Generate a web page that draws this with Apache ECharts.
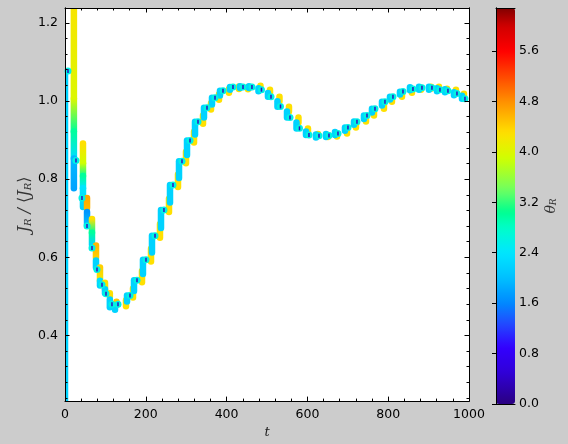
<!DOCTYPE html>
<html><head><meta charset="utf-8">
<script src="https://cdn.jsdelivr.net/npm/echarts@6/dist/echarts.min.js"></script>
<style>html,body{margin:0;padding:0;background:#cccccc;} #c{width:568px;height:444px;}</style>
</head><body><div id="c"></div>
<script>
// ---------------- data ----------------
const xTicks = [0, 200, 400, 600, 800, 1000];
const yMajorTicks = [0.4, 0.6, 0.8, 1.0, 1.2];
const yMinorTicks = [0.24,0.28,0.32,0.36,0.40,0.44,0.48,0.52,0.56,0.60,0.64,0.68,0.72,0.76,0.80,0.84,0.88,0.92,0.96,1.00,1.04,1.08,1.12,1.16,1.20];
const cbTicks = [0.0, 0.8, 1.6, 2.4, 3.2, 4.0, 4.8, 5.6];

// early (falling) part: [t, J_from, J_to, theta_from, theta_to]
const earlyBars = [
  [0, 0.225, 1.075, 2.2, 2.2],
  [22, 1.30, 1.006, 4.3, 4.0], [22, 1.006, 0.922, 4.0, 3.0], [22, 0.922, 0.853, 3.0, 2.3], [22, 0.853, 0.777, 1.95, 1.8],
  [44.5, 0.891, 0.841, 4.3, 3.9], [44.5, 0.841, 0.808, 3.9, 3.0], [44.5, 0.808, 0.777, 3.0, 2.4], [44.5, 0.777, 0.729, 2.4, 2.2],
  [54.5, 0.752, 0.726, 4.65, 4.55], [54.5, 0.716, 0.683, 1.7, 2.0],
  [66.8, 0.698, 0.663, 4.3, 3.0], [66.8, 0.663, 0.632, 3.0, 2.2],
  [76.7, 0.630, 0.599, 4.55, 4.4], [76.7, 0.592, 0.574, 2.2, 2.2],
  [86.6, 0.574, 0.540, 4.4, 4.2], [86.6, 0.540, 0.528, 2.3, 2.2],
  [99, 0.535, 0.518, 4.3, 4.3], [99, 0.518, 0.508, 2.2, 2.2],
  [111, 0.508, 0.500, 4.3, 4.3], [111, 0.492, 0.472, 2.2, 2.2],
  [127.5, 0.486, 0.478, 4.45, 4.45], [123.8, 0.473, 0.466, 2.2, 2.2]
];
// yellow (theta ~4.3) and cyan (theta ~2.2) columns after the minimum: [t, J_from, J_to]
const yellowBars = [
  [151,0.475,0.490],[168.3,0.497,0.520],[190.6,0.536,0.565],[212.9,0.589,0.622],[235.1,0.650,0.685],
  [257.4,0.716,0.750],[279.7,0.780,0.812],[299.5,0.841,0.870],[319.3,0.894,0.921],[341.6,0.942,0.963],
  [361.4,0.978,0.994],[381.2,1.003,1.017],[405.9,1.021,1.031],[430.6,1.031,1.037],[453,1.030,1.036],
  [483.9,1.0389,1.0338],[507.4,1.0287,1.0207],[530.9,1.0109,0.9995],[554.4,0.9855,0.9729],[577.9,0.9575,0.9450],
  [601.4,0.9296,0.9222],[626.2,0.9156,0.9105],[650.9,0.9131,0.9079],[673.2,0.9143,0.9092],[698.0,0.9169,0.9237],
  [720.2,0.9321,0.9390],[745.0,0.9474,0.9542],[764.8,0.9626,0.9706],[789.5,0.9804,0.9884],[809.3,0.9982,1.0039],
  [834.1,1.0109,1.0166],[858.8,1.0211,1.0262],[881.1,1.0287,1.0338],[905.9,1.0313,1.0364],[925.7,1.0364,1.0313],
  [945.5,1.0313,1.0262],[967.7,1.0287,1.0228],[987.5,1.0186,1.0128]
];
const cyanBars = [
  [153.5,0.487,0.502],[170.8,0.514,0.541],[193,0.557,0.594],[215.3,0.612,0.655],[237.6,0.675,0.721],
  [259.9,0.740,0.785],[282.2,0.803,0.846],[302,0.862,0.899],[321.8,0.914,0.947],[344,0.958,0.983],
  [363.8,0.991,1.008],[383.6,1.014,1.026],[408.4,1.029,1.036],[433,1.033,1.038],[455.4,1.033,1.038],
  [478.9,1.0325,1.0249],[502.4,1.0207,1.0109],[525.9,0.9995,0.9855],[549.5,0.9729,0.9575],[573.0,0.9450,0.9296],
  [596.5,0.9222,0.9131],[621.2,0.9143,0.9067],[646.0,0.9156,0.9079],[668.3,0.9207,0.9131],[693.0,0.9237,0.9321],
  [715.3,0.9390,0.9474],[740.0,0.9542,0.9626],[759.8,0.9706,0.9804],[784.6,0.9884,0.9982],[804.4,1.0039,1.0109],
  [829.1,1.0166,1.0236],[853.9,1.0351,1.0275],[876.2,1.0364,1.0287],[900.9,1.0364,1.0287],[920.7,1.0325,1.0249],
  [940.5,1.0300,1.0224],[962.8,1.0224,1.0147],[982.6,1.0135,1.0058]
];
// pericentre passages [t, J, theta]
const pericentres = [
  [7.4,1.077,2.6],[27.2,0.848,2.6],[42,0.752,2.6],[54.5,0.680,2.6],[66.8,0.624,2.6],[79.2,0.569,2.6],
  [91.6,0.530,2.6],[101.5,0.507,2.6],[116.3,0.480,2.6],[131.2,0.480,2.6],
  [160.9,0.502,2.6],[178.2,0.541,2.6],[200.5,0.594,2.6],[222.8,0.655,2.6],[245,0.721,2.6],[267.3,0.785,2.6],
  [289.6,0.846,2.6],[309.4,0.899,2.6],[329.2,0.947,2.6],[351.5,0.983,2.6],[371.3,1.008,2.6],[391.1,1.026,2.6],
  [415.8,1.036,2.6],[440.6,1.036,2.6],[462.8,1.036,2.6],
  [486.3,1.029,2.6],[509.9,1.011,2.6],[533.4,0.986,2.6],[556.9,0.958,2.6],[580.4,0.930,2.6],[603.9,0.913,2.6],
  [628.7,0.911,2.6],[653.4,0.912,2.6],[675.7,0.917,2.6],[700.4,0.932,2.6],[722.7,0.947,2.6],[747.5,0.963,2.6],
  [767.3,0.980,2.6],[792,0.998,2.6],[811.8,1.011,2.6],[836.6,1.024,2.6],[861.3,1.031,2.6],[883.6,1.034,2.6],
  [908.3,1.034,2.6],[928.1,1.029,2.6],[947.9,1.026,2.6],[970.2,1.019,2.6],[990,1.006,2.6]
];
const yMin = 0.232, yMax = 1.238, thetaMax = 2 * Math.PI;

// ---------------- colour map ----------------
const cmapStops = [
  [0.0,'#2a0080'],[0.5,'#3000d8'],[0.9,'#3300ff'],[1.3,'#2050ff'],[1.6,'#0088ff'],[2.0,'#00c0ff'],
  [2.4,'#00e6ff'],[2.8,'#00ffc8'],[3.05,'#00ff90'],[3.4,'#70ff60'],[3.9,'#d0ff00'],[4.3,'#ffe000'],
  [4.8,'#ff9000'],[5.2,'#ff4800'],[5.6,'#ff0000'],[6.0,'#d00000'],[6.2832,'#800000']
];
function hex(c){ return [parseInt(c.substr(1,2),16), parseInt(c.substr(3,2),16), parseInt(c.substr(5,2),16)]; }
function cmap(theta){
  const v = Math.max(0, Math.min(thetaMax, theta));
  for (let i = 1; i < cmapStops.length; i++){
    if (v <= cmapStops[i][0]){
      const a = cmapStops[i-1], b = cmapStops[i];
      const f = (v - a[0]) / (b[0] - a[0]);
      const ca = hex(a[1]), cb = hex(b[1]);
      return 'rgb(' + ca.map((x, k) => Math.round(x + (cb[k] - x) * f)).join(',') + ')';
    }
  }
  return cmapStops[cmapStops.length-1][1];
}
const cmapSamples = [];
for (let i = 0; i <= 64; i++) cmapSamples.push(cmap(thetaMax * i / 64));

// ---------------- chart ----------------
const FONT = 'DejaVu Sans';
const LW = 6.5;
function barSeries(name, data, thetaFrom, thetaTo){
  return {
    type: 'custom', name, xAxisIndex: 0, yAxisIndex: 0, clip: true, z: 2,
    data,
    renderItem(params, api){
      const t = api.value(0);
      const p1 = api.coord([t, api.value(1)]);
      const p2 = api.coord([t, api.value(2)]);
      const th1 = thetaFrom != null ? thetaFrom : api.value(3);
      const th2 = thetaTo != null ? thetaTo : api.value(4);
      return {
        type: 'line',
        shape: {x1: p1[0], y1: p1[1], x2: p2[0], y2: p2[1]},
        style: {
          stroke: {type: 'linear', global: true, x: p1[0], y: p1[1], x2: p2[0], y2: p2[1] + 0.01,
            colorStops: [{offset: 0, color: cmap(th1)}, {offset: 1, color: cmap(th2)}]},
          lineWidth: LW, lineCap: 'round'
        }
      };
    }
  };
}

function xAx(pos, showLabel){
  return {
    type: 'value', gridIndex: 0, position: pos, min: 0, max: 1000, interval: 200, z: 5,
    axisLine: {show: true, onZero: false, lineStyle: {color: '#000', width: 1}},
    axisTick: {show: true, inside: true, length: 4.5, lineStyle: {color: '#000'}},
    minorTick: {show: true, splitNumber: 5, length: 2.5, lineStyle: {color: '#000'}},
    axisLabel: {show: showLabel, color: '#000', fontFamily: FONT, fontSize: 12.5, margin: 7,
      customValues: xTicks, formatter: v => String(Math.round(v))},
    splitLine: {show: false},
    name: showLabel ? 't' : '', nameLocation: 'middle', nameGap: 22,
    nameTextStyle: {fontFamily: 'DejaVu Serif', fontStyle: 'italic', fontSize: 13, color: '#222'}
  };
}
const richMath = {
  i: {fontFamily: 'DejaVu Serif', fontStyle: 'italic', fontSize: 16, color: '#333', lineHeight: 20},
  b: {fontFamily: 'DejaVu Sans', fontSize: 16, color: '#333', lineHeight: 20},
  s: {fontFamily: 'DejaVu Serif', fontStyle: 'italic', fontSize: 10, color: '#333', lineHeight: 20, padding: [6, 0, 0, 0]}
};
function yAx(pos, values, len, showLabel, withName){
  return {
    type: 'value', gridIndex: 0, position: pos, min: yMin, max: yMax, z: 5,
    axisLine: {show: true, onZero: false, lineStyle: {color: '#000', width: 1}},
    axisTick: {show: true, inside: true, length: len, customValues: values, lineStyle: {color: '#000'}},
    axisLabel: {show: showLabel, customValues: values, color: '#000', fontFamily: FONT, fontSize: 12.5, margin: 7,
      formatter: v => v.toFixed(1)},
    splitLine: {show: false},
    name: withName ? '{i|J}{s|R}{i| / }{b|⟨}{i|J}{s|R}{b|⟩}' : '',
    nameLocation: 'middle', nameGap: 30, nameRotate: 90, nameMoveOverlap: false,
    nameTextStyle: {rich: richMath}
  };
}

const option = {
  backgroundColor: '#cccccc',
  animation: false,
  grid: [
    {left: 65, top: 8, width: 404, height: 396, show: true, backgroundColor: '#ffffff', borderWidth: 0},
    {left: 496, top: 8, width: 19, height: 396, show: false}
  ],
  xAxis: [
    xAx('bottom', true), xAx('top', false),
    {type: 'value', gridIndex: 1, position: 'bottom', min: 0, max: 1, z: 10, axisLine: {show: true, onZero: false, lineStyle: {color: '#000'}}, axisTick: {show: false}, axisLabel: {show: false}, splitLine: {show: false}},
    {type: 'value', gridIndex: 1, position: 'top', min: 0, max: 1, z: 10, axisLine: {show: true, onZero: false, lineStyle: {color: '#000'}}, axisTick: {show: false}, axisLabel: {show: false}, splitLine: {show: false}}
  ],
  yAxis: [
    yAx('left', yMajorTicks, 4.5, true, true),
    yAx('left', yMinorTicks, 2.5, false, false),
    yAx('right', yMajorTicks, 4.5, false, false),
    yAx('right', yMinorTicks, 2.5, false, false),
    {type: 'value', gridIndex: 1, position: 'right', min: 0, max: thetaMax, z: 10,
      axisLine: {show: true, lineStyle: {color: '#000'}},
      axisTick: {show: true, inside: true, length: 4, customValues: cbTicks, lineStyle: {color: '#000'}},
      axisLabel: {show: true, customValues: cbTicks, color: '#000', fontFamily: FONT, fontSize: 12.5, margin: 4, formatter: v => v.toFixed(1)},
      splitLine: {show: false},
      name: '{i|θ}{s|R}', nameLocation: 'middle', nameGap: 27, nameRotate: 90,
      nameTextStyle: {rich: {
        i: {fontFamily: 'DejaVu Serif', fontStyle: 'italic', fontSize: 14, color: '#333', lineHeight: 18},
        s: {fontFamily: 'DejaVu Serif', fontStyle: 'italic', fontSize: 9, color: '#333', lineHeight: 18, padding: [5, 0, 0, 0]}
      }}
    },
    {type: 'value', gridIndex: 1, position: 'left', min: 0, max: thetaMax, z: 10,
      axisLine: {show: true, lineStyle: {color: '#000'}}, axisTick: {show: false}, axisLabel: {show: false}, splitLine: {show: false}}
  ],
  visualMap: {
    type: 'continuous', min: 0, max: thetaMax, dimension: 2, seriesIndex: 3,
    orient: 'vertical', left: 496, top: 8, itemWidth: 19, itemHeight: 396, padding: 0,
    calculable: false, realtime: false, text: null, showLabel: false, hoverLink: false,
    inRange: {color: cmapSamples}, z: 4
  },
  series: [
    barSeries('early', earlyBars, null, null),
    barSeries('yellow', yellowBars, 4.3, 4.3),
    barSeries('cyan', cyanBars, 2.2, 2.2),
    {type: 'scatter', name: 'pericentre', xAxisIndex: 0, yAxisIndex: 0, data: pericentres,
      symbol: 'circle', symbolSize: 7, z: 3, clip: true, itemStyle: {opacity: 1}},
    {type: 'scatter', name: 'pericentre core', xAxisIndex: 0, yAxisIndex: 0, data: pericentres,
      symbol: 'rect', symbolSize: [1.5, 4], z: 4, clip: true, itemStyle: {color: '#3010c0', opacity: 1}}
  ]
};
const chart = echarts.init(document.getElementById('c'), null, {renderer: 'canvas'});
chart.setOption(option);
</script></body></html>
